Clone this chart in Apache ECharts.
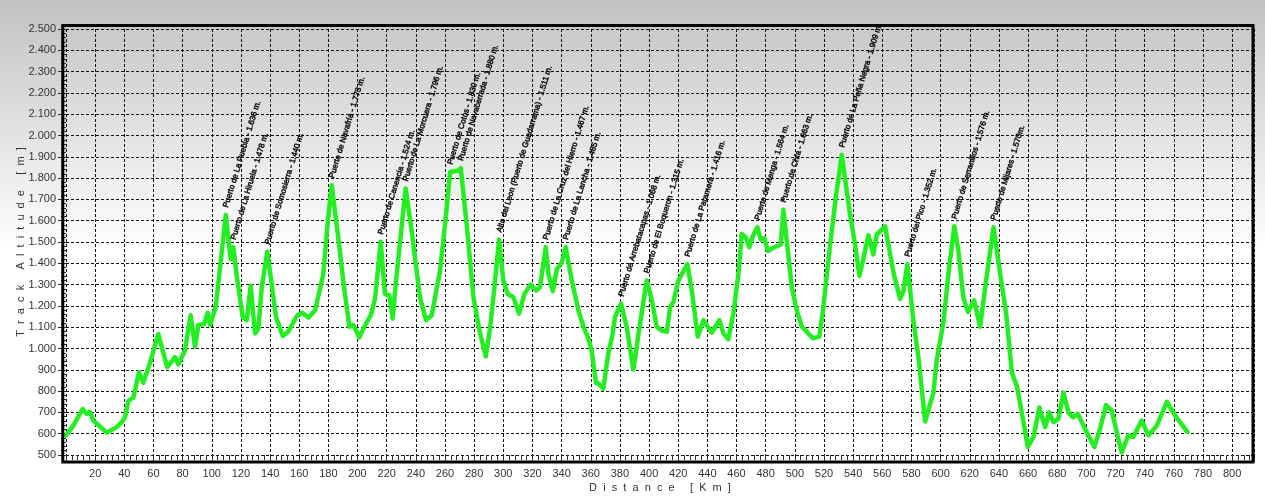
<!DOCTYPE html>
<html>
<head>
<meta charset="utf-8">
<script src="https://cdn.jsdelivr.net/npm/echarts@6.0.0/dist/echarts.min.js"></script>
<style>
  html, body { margin: 0; padding: 0; }
  body { background: linear-gradient(to bottom, #c2c2c2 0px, #ffffff 250px, #ffffff 498px); }
  #chart { width: 1265px; height: 498px; }
</style>
</head>
<body>
<div id="chart"></div>
<script>
// perfil de altitud: distancia (km) y altitud (m)
const distanceKm = [
  0, 5, 11.4, 14.2, 16.5, 18.7, 27.9, 34.8, 38.2, 40.5, 42.8, 46.2, 50.1, 53, 57.6, 63.3, 65.6, 69.5,
  74.8, 77, 81.6, 85.5, 88.5, 90.8, 94.7, 97.2, 98.8, 102.7, 105.7, 109.6, 113, 114.8, 117.1, 121.2,
  124, 126.7, 129.7, 132, 134.3, 138.1, 144.1, 148.7, 152.5, 158.7, 162.1, 166.3, 170.9, 176.5, 179.5,
  182.3, 186.8, 190.5, 194.4, 197.1, 201.3, 205.1, 209.1, 212, 215.9, 218.8, 221.8, 224.1, 226.4, 233,
  237.2, 242.8, 247, 250.9, 256.6, 260.7, 263.5, 269.6, 270.8, 274.9, 279.5, 283.6, 288, 290.9, 293.9,
  297.1, 300, 303, 306.9, 310.8, 314.5, 318.8, 322.5, 325.2, 329.1, 331, 334, 336.7, 340.1, 342.8, 347,
  351.5, 355, 358.4, 360.7, 363.6, 365.2, 368.6, 372.1, 375.1, 376.6, 380.8, 384.7, 389.2, 393.8, 398.4,
  401.9, 405.3, 408.7, 412.2, 414.4, 416.7, 420.1, 426.3, 429.3, 433.4, 437.3, 443, 448.2, 451, 454.4,
  457.8, 461.3, 463.6, 466.5, 468.8, 471.1, 474.3, 476.6, 479.1, 481.4, 485.3, 490.3, 492.1, 494.5,
  497.9, 501.3, 504.8, 508.2, 512.3, 516.8, 519.6, 523.7, 528.3, 532.2, 537.9, 541.3, 544.3, 547, 550.5,
  553.9, 556.2, 561.9, 565.4, 568.1, 572.2, 574.5, 577.2, 581.3, 584.7, 589.4, 592.8, 595.1, 597.4, 602,
  605.3, 609.4, 612.2, 615.6, 618.7, 623, 627.1, 630.6, 636.3, 640.9, 645, 648.9, 652.3, 655.7, 659.8,
  663.7, 667.8, 671.7, 674.5, 677.4, 680.8, 684.3, 687.7, 690.7, 694.1, 698, 701.4, 705.5, 709.4, 713.5,
  717.4, 720.3, 724.2, 728.8, 732.2, 737.9, 742.6, 748.3, 755.2, 760.9, 769.4
];
const altitudeM = [
  592, 638, 716, 693, 703, 662, 605, 631, 654, 677, 754, 770, 889, 839, 932, 1068, 1009, 913,
  960, 925, 991, 1156, 1009, 1110, 1115, 1167, 1110, 1195, 1380, 1627, 1419, 1476, 1342, 1148,
  1133, 1295, 1071, 1094, 1288, 1454, 1148, 1059, 1079, 1156, 1168, 1145, 1180, 1349, 1589,
  1766, 1519, 1300, 1102, 1110, 1052, 1110, 1156, 1233, 1501, 1256, 1249, 1141, 1318, 1751,
  1550, 1241, 1133, 1156, 1365, 1627, 1829, 1836, 1847, 1581, 1241, 1087, 963, 1094, 1288,
  1511, 1319, 1256, 1241, 1164, 1256, 1300, 1272, 1288, 1476, 1349, 1269, 1372, 1403, 1476, 1319,
  1180, 1102, 1048, 986, 839, 836, 811, 978, 1071, 1148, 1210, 1100, 901, 1117, 1319,
  1226, 1102, 1084, 1079, 1195, 1218, 1319, 1396, 1272, 1056, 1133, 1074, 1133, 1071, 1043,
  1164, 1349, 1538, 1519, 1476, 1527, 1569, 1511, 1519, 1458, 1473, 1488, 1651, 1504,
  1288, 1180, 1102, 1079, 1048, 1056, 1195, 1458, 1720, 1909, 1627, 1488, 1342, 1419, 1532,
  1442, 1535, 1574, 1442, 1342, 1233, 1272, 1396, 1133, 963, 657, 739, 793, 948, 1125,
  1349, 1574, 1458, 1241, 1172, 1226, 1102, 1288, 1569, 1349, 1164, 886, 824, 700, 538,
  584, 723, 631, 700, 654, 670, 793, 700, 677, 693, 638, 592, 538, 623, 734,
  708, 623, 512, 592, 584, 662, 592, 638, 750, 685, 607
];

// puertos
const passNames = [
  "Puerto de La Puebla - 1.636 m.",
  "Puerto de La Hiruela - 1.478 m.",
  "Puerto de Somosierra - 1.440 m.",
  "Puerto de Navafría - 1.773 m.",
  "Puerto de Canencia - 1.524 m.",
  "Puerto de La Morcuera - 1.796 m.",
  "Puerto de Cotos - 1.830 m.",
  "Puerto de Navacerrada - 1.880 m.",
  "Alto del Leon (Puerto de Guadarrama) - 1.511 m.",
  "Puerto de La Cruz del Hierro - 1.467 m.",
  "Puerto de La Lancha - 1.485 m.",
  "Puerto de Arrebatacapas - 1.068 m.",
  "Puerto de El Boqueron - 1.315 m.",
  "Puerto de La Paramera - 1.416 m.",
  "Puerto de Menga - 1.564 m.",
  "Puerto de Chía - 1.663 m.",
  "Puerto de La Peña Negra - 1.909 m.",
  "Puerto del Pico - 1.352 m.",
  "Puerto de Serranillos - 1.576 m.",
  "Puerto de Mijares - 1.570m."
];
const passKm = [109.6, 114.8, 138.1, 182.3, 215.9, 233, 263.5, 270.8, 297.1, 329.1, 342.8, 380.8, 398.4, 426.3, 474.3, 492.1, 532.2, 577.2, 609.4, 636.3];
const passAlt = [1627, 1476, 1454, 1766, 1501, 1751, 1829, 1847, 1511, 1476, 1476, 1210, 1319, 1396, 1569, 1651, 1909, 1396, 1574, 1569];

const FONT = "Liberation Sans";

const fmtAlt = (v) => {
  if (v >= 1000) {
    return Math.floor(v / 1000) + "." + String(v % 1000).padStart(3, "0");
  }
  return String(v);
};

const chart = echarts.init(document.getElementById("chart"), null, { renderer: "canvas" });

const option = {
  animation: false,
  grid: {
    left: 66,
    right: 11,
    top: 29,
    bottom: 38,
    containLabel: false,
  },
  xAxis: {
    type: "value",
    min: 0,
    max: 815,
    interval: 20,
    name: "D  i  s  t  a  n  c  e     [  K  m  ]",
    nameLocation: "middle",
    nameGap: 27,
    nameMoveOverlap: false,
    nameTextStyle: { color: "#333", fontSize: 11, fontFamily: FONT },
    axisLine: { show: false },
    axisTick: { show: true, length: 7, lineStyle: { color: "#333" } },
    minorTick: { show: true, splitNumber: 5, length: 5, lineStyle: { color: "#333" } },
    axisLabel: {
      color: "#333",
      fontSize: 11,
      fontFamily: FONT,
      margin: 13,
      showMaxLabel: false,
      formatter: (v) => (v === 0 ? "" : String(v)),
    },
    splitLine: {
      show: true,
      lineStyle: { color: "#111", type: [3, 2], width: 1 },
    },
  },
  yAxis: {
    type: "value",
    min: 500,
    max: 2500,
    interval: 100,
    name: "T  r  a  c  k     A  l  t  i  t  u  d  e     [  m  ]",
    nameLocation: "middle",
    nameGap: 40,
    nameMoveOverlap: false,
    nameTextStyle: { color: "#333", fontSize: 11, fontFamily: FONT },
    axisLine: { show: false },
    axisTick: { show: true, length: 8, lineStyle: { color: "#333" } },
    minorTick: { show: true, splitNumber: 5, length: 5, lineStyle: { color: "#333" } },
    axisLabel: {
      color: "#333",
      fontSize: 11,
      fontFamily: FONT,
      margin: 10,
      formatter: fmtAlt,
    },
    splitLine: {
      show: true,
      lineStyle: { color: "#111", type: [3, 2], width: 1 },
    },
  },
  graphic: [
    {
      type: "rect",
      z: 100,
      silent: true,
      shape: { x: 62.8, y: 25.5, width: 1190.2, height: 436.5 },
      style: { fill: null, stroke: "#000", lineWidth: 3 },
    },
  ],
  series: [
    {
      type: "line",
      data: distanceKm.map((d, i) => [d, altitudeM[i]]),
      showSymbol: false,
      symbol: "none",
      lineStyle: { color: "#22ee22", width: 4.5, join: "round", cap: "round" },
      z: 5,
    },
    {
      type: "scatter",
      data: passKm.map((d, i) => ({ value: [d, passAlt[i]], name: passNames[i] })),
      symbolSize: 1,
      itemStyle: { color: "rgba(0,0,0,0)" },
      silent: true,
      z: 6,
      label: {
        show: true,
        formatter: "{b}",
        position: "top",
        distance: 7,
        rotate: 73,
        align: "left",
        verticalAlign: "middle",
        color: "#000",
        fontSize: 8,
        fontFamily: FONT,
        textBorderColor: "#000",
        textBorderWidth: 0.6,
      },
    },
  ],
};

chart.setOption(option);
</script>
</body>
</html>
